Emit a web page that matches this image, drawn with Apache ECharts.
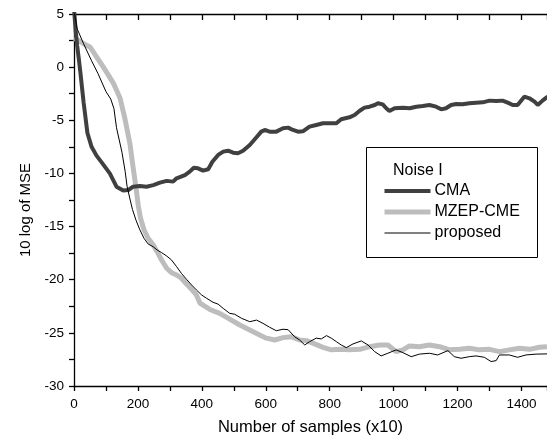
<!DOCTYPE html>
<html>
<head>
<meta charset="utf-8">
<script src="https://cdn.jsdelivr.net/npm/echarts@6/dist/echarts.min.js"></script>
<style>
html,body{margin:0;padding:0;background:#fff;}
#c{width:547px;height:445px;}
</style>
</head>
<body>
<div id="c"></div>
<script>
// ---- data ----
const seriesNames = ['CMA', 'MZEP-CME', 'proposed'];
const legendTitle = 'Noise I';
const xTitle = 'Number of samples (x10)';
const yTitle = '10 log of MSE';

const cmaX = [0, 5, 10, 15, 20, 30, 42, 55, 70, 90, 112, 133, 154, 170, 185, 206, 227, 248, 269, 290, 310, 321, 347, 362, 375, 388, 404, 420, 433, 451, 467, 482, 498, 513, 529, 550, 571, 586, 597, 612, 633, 654, 670, 685, 701, 716, 737, 758, 779, 800, 821, 836, 862, 878, 894, 909, 925, 941, 951, 966, 977, 987, 1003, 1029, 1050, 1071, 1091, 1112, 1133, 1149, 1164, 1180, 1196, 1216, 1237, 1258, 1279, 1300, 1321, 1341, 1357, 1373, 1388, 1409, 1425, 1441, 1451, 1466, 1482];
const cmaY = [5.5, 3.5, 2.0, 0.8, -0.5, -3.3, -6.2, -7.5, -8.3, -9.1, -10.0, -11.25, -11.6, -11.56, -11.25, -11.18, -11.25, -11.1, -10.87, -10.7, -10.77, -10.46, -10.15, -9.83, -9.46, -9.52, -9.74, -9.61, -8.9, -8.26, -7.95, -7.86, -8.05, -8.1, -7.86, -7.32, -6.6, -6.07, -5.91, -6.07, -6.07, -5.75, -5.69, -5.91, -6.07, -6.04, -5.6, -5.44, -5.28, -5.28, -5.28, -4.9, -4.72, -4.5, -4.1, -3.81, -3.72, -3.56, -3.4, -3.5, -3.87, -4.13, -3.87, -3.81, -3.87, -3.72, -3.65, -3.56, -3.72, -3.97, -3.87, -3.56, -3.47, -3.5, -3.4, -3.34, -3.31, -3.15, -3.18, -3.15, -3.34, -3.56, -3.56, -2.78, -2.93, -3.25, -3.56, -3.15, -2.78];

const mzepX = [0, 10, 30, 50, 70, 92, 123, 144, 159, 175, 183, 190, 196, 201, 208, 219, 232, 248, 260, 274, 290, 305, 321, 336, 352, 368, 383, 394, 425, 456, 487, 519, 550, 581, 602, 628, 654, 680, 706, 727, 753, 779, 805, 831, 862, 894, 925, 956, 982, 1008, 1029, 1050, 1081, 1112, 1144, 1175, 1206, 1237, 1269, 1300, 1331, 1362, 1394, 1425, 1456, 1480];
const mzepY = [2.7, 2.6, 2.2, 1.9, 1.0, 0.0, -1.5, -2.9, -4.8, -7.2, -9.0, -10.5, -11.8, -13.0, -14.2, -15.3, -16.1, -16.73, -17.36, -18.14, -18.92, -19.34, -19.55, -19.86, -20.4, -20.9, -21.43, -22.2, -22.8, -23.16, -23.7, -24.26, -24.73, -25.2, -25.5, -25.67, -25.45, -25.36, -25.67, -25.73, -26.04, -26.36, -26.6, -26.55, -26.6, -26.55, -26.3, -26.14, -26.14, -26.77, -26.6, -26.23, -26.3, -26.14, -26.3, -26.6, -26.55, -26.45, -26.6, -26.55, -26.77, -26.6, -26.45, -26.55, -26.36, -26.3];

const propX = [0, 10, 30, 55, 75, 100, 115, 125, 133, 150, 160, 166, 175, 183, 194, 206, 219, 232, 248, 260, 274, 290, 305, 321, 336, 352, 368, 383, 399, 415, 435, 451, 467, 487, 503, 524, 550, 571, 591, 612, 633, 654, 670, 690, 706, 722, 737, 758, 774, 790, 805, 821, 836, 852, 873, 899, 920, 941, 961, 982, 1008, 1029, 1055, 1081, 1112, 1138, 1170, 1190, 1211, 1237, 1258, 1284, 1305, 1321, 1331, 1362, 1388, 1414, 1446, 1480];
const propY = [5.3, 3.6, 2.2, 0.6, -0.6, -2.3, -3.0, -3.9, -5.7, -8.0, -9.8, -11.2, -12.4, -13.4, -14.4, -15.3, -16.1, -16.64, -16.9, -17.2, -17.45, -17.77, -18.14, -18.77, -19.4, -19.96, -20.5, -20.96, -21.43, -21.75, -22.12, -22.3, -22.7, -23.16, -23.25, -23.63, -23.95, -23.8, -24.1, -24.47, -24.8, -24.66, -24.7, -25.36, -25.67, -26.14, -25.83, -25.5, -25.57, -25.26, -25.5, -25.83, -26.14, -26.39, -26.04, -25.76, -26.14, -26.77, -27.17, -26.92, -26.6, -26.86, -27.24, -27.0, -26.92, -27.08, -26.67, -27.24, -27.39, -27.24, -27.17, -27.3, -27.7, -27.61, -27.08, -27.08, -27.3, -27.08, -27.0, -26.98];

const xMin = 0, xMax = 1480, xStep = 200;
const yMin = -30, yMax = 5, yStep = 5;

function pairs(xs, ys) { return xs.map((x, i) => [x, ys[i]]); }

const FONT = 'Liberation Sans, Arial, sans-serif';
const chart = echarts.init(document.getElementById('c'), null, {renderer: 'canvas'});

const axisLineStyle = {color: '#000', width: 1.3};
const colors = ['#404040', '#bdbdbd', '#000000'];
const widths = [4, 5, 1];

chart.setOption({
  animation: false,
  backgroundColor: '#fff',
  grid: {left: 74, right: 0, top: 14, bottom: 59, containLabel: false},
  xAxis: [{
    type: 'value', position: 'bottom', min: xMin, max: xMax, interval: xStep,
    name: xTitle, nameLocation: 'middle', nameGap: 33,
    nameTextStyle: {fontFamily: FONT, fontSize: 16.5, color: '#000'},
    axisLine: {show: true, onZero: false, lineStyle: axisLineStyle},
    axisTick: {show: true, inside: false, length: 5, lineStyle: axisLineStyle},
    minorTick: {show: true, splitNumber: 2, length: 5, lineStyle: axisLineStyle},
    axisLabel: {fontFamily: FONT, fontSize: 13.5, color: '#000', margin: 11, showMaxLabel: false,
                formatter: v => String(v)},
    splitLine: {show: false}
  }, {
    type: 'value', position: 'top', min: xMin, max: xMax, interval: xStep,
    axisLine: {show: true, onZero: false, lineStyle: axisLineStyle},
    axisTick: {show: true, inside: true, length: 6, lineStyle: axisLineStyle},
    minorTick: {show: true, splitNumber: 2, length: 6, lineStyle: axisLineStyle},
    axisLabel: {show: false},
    splitLine: {show: false}
  }],
  yAxis: [{
    type: 'value', min: yMin, max: yMax, interval: yStep,
    name: yTitle, nameLocation: 'middle', nameGap: 38, nameRotate: 90,
    nameTextStyle: {fontFamily: FONT, fontSize: 15, color: '#000', padding: [0, 20, 0, 0]},
    axisLine: {show: true, onZero: false, lineStyle: axisLineStyle},
    axisTick: {show: true, inside: false, length: 5, lineStyle: axisLineStyle},
    minorTick: {show: true, splitNumber: 2, length: 5, lineStyle: axisLineStyle},
    axisLabel: {fontFamily: FONT, fontSize: 13.5, color: '#000', margin: 10,
                formatter: v => String(v)},
    splitLine: {show: false}
  }],
  legend: {
    orient: 'vertical', left: 382, top: 183, padding: 0,
    itemWidth: 46, itemHeight: 14, itemGap: 5,
    data: seriesNames.map((n, i) => ({
      name: n,
      lineStyle: {color: colors[i], width: widths[i]},
      itemStyle: {opacity: 0}
    })),
    textStyle: {fontFamily: FONT, fontSize: 16, color: '#000', lineHeight: 16, padding: [0,0,0,-1]}
  },
  graphic: [
    {type: 'rect', shape: {x: 366.5, y: 147.5, width: 171, height: 110},
     style: {fill: 'none', stroke: '#000', lineWidth: 1}, z: 100},
    {type: 'text', x: 393, y: 171, style: {text: legendTitle, font: '16px ' + FONT, fill: '#000', textVerticalAlign: 'middle'}, z: 100}
  ],
  series: [
    {name: seriesNames[0], type: 'line', data: pairs(cmaX, cmaY), showSymbol: false, symbol: 'none',
     lineStyle: {color: colors[0], width: widths[0]}, itemStyle: {color: colors[0]}, z: 3, clip: true},
    {name: seriesNames[1], type: 'line', data: pairs(mzepX, mzepY), showSymbol: false, symbol: 'none',
     lineStyle: {color: colors[1], width: widths[1]}, itemStyle: {color: colors[1]}, z: 2, clip: true},
    {name: seriesNames[2], type: 'line', data: pairs(propX, propY), showSymbol: false, symbol: 'none',
     lineStyle: {color: colors[2], width: widths[2]}, itemStyle: {color: colors[2]}, z: 4, clip: true}
  ]
});
</script>
</body>
</html>
